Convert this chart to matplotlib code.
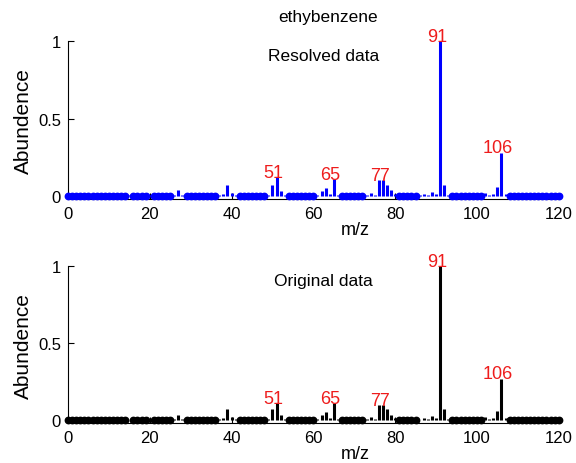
import matplotlib.pyplot as plt
import numpy as np

plt.rcParams['font.family'] = ['Liberation Sans', 'DejaVu Sans']

mz_range = np.arange(0, 121)

# non-zero peaks (m/z, abundance)
resolved_mz = [15, 20, 26, 27, 28, 37, 38, 39, 40, 41, 49, 50, 51, 52, 53,
               61, 62, 63, 64, 65, 66, 73, 74, 75, 76, 77, 78, 79, 80,
               86, 87, 88, 89, 90, 91, 92, 93, 102, 103, 104, 105, 106, 107]
resolved_ab = [0.003, 0.006, 0.005, 0.035, 0.004, 0.004, 0.01, 0.07, 0.02, 0.005,
               0.004, 0.07, 0.12, 0.03, 0.005,
               0.004, 0.03, 0.05, 0.01, 0.11, 0.005,
               0.005, 0.02, 0.008, 0.1, 0.1, 0.07, 0.035, 0.01,
               0.003, 0.01, 0.004, 0.025, 0.01, 1.0, 0.07, 0.005,
               0.02, 0.008, 0.01, 0.06, 0.28, 0.01]

original_mz = resolved_mz
original_ab = [0.003, 0.006, 0.005, 0.035, 0.004, 0.004, 0.01, 0.07, 0.02, 0.005,
               0.004, 0.07, 0.11, 0.03, 0.005,
               0.004, 0.03, 0.05, 0.01, 0.11, 0.005,
               0.005, 0.02, 0.008, 0.1, 0.1, 0.07, 0.035, 0.01,
               0.003, 0.01, 0.004, 0.025, 0.01, 1.0, 0.07, 0.005,
               0.02, 0.008, 0.01, 0.06, 0.27, 0.01]

label_mz = [51, 65, 77, 91, 106]

fig = plt.figure(figsize=(5.76, 4.64), dpi=100)
ax1 = fig.add_axes([0.118, 0.569, 0.852, 0.34])
ax2 = fig.add_axes([0.118, 0.086, 0.852, 0.338])


def draw_panel(ax, mz, ab, color, name):
    ax.vlines(mz, 0, ab, colors=color, linewidth=2.2)
    zeros = [m for m in mz_range if m not in mz]
    ax.plot(zeros, np.zeros(len(zeros)), 'o', color=color, markersize=4.6,
            clip_on=False, zorder=3)
    lookup = dict(zip(mz, ab))
    for m in label_mz:
        ax.text(m - 0.8, lookup[m] + 0.03, str(m), color='#ee1c1c',
                ha='center', va='center', fontsize=13)
    ax.text(62.5, 0.91, name, ha='center', va='center', fontsize=12.5)
    ax.set_xlim(0, 120)
    ax.set_ylim(-0.02, 1)
    ax.set_xticks(range(0, 121, 20))
    ax.set_yticks([0, 0.5, 1])
    ax.set_yticklabels(['0', '0.5', '1'])
    ax.tick_params(direction='in', length=4, labelsize=12, pad=5)
    ax.spines['top'].set_visible(False)
    ax.spines['right'].set_visible(False)
    ax.set_ylabel('Abundence', fontsize=15, labelpad=4)
    ax.set_xlabel('m/z', fontsize=13, labelpad=0, x=0.585)


draw_panel(ax1, resolved_mz, resolved_ab, 'blue', 'Resolved data')
draw_panel(ax2, original_mz, original_ab, 'black', 'Original data')
ax1.text(0.53, 1.155, 'ethybenzene', transform=ax1.transAxes,
         ha='center', va='center', fontsize=12.5)

fig.savefig('out.png', dpi=100)
